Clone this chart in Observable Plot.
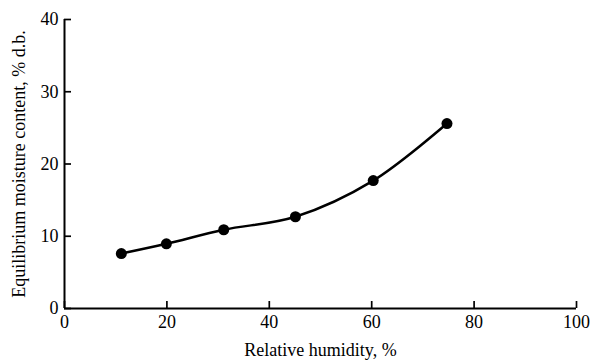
<!DOCTYPE html>
<html><head><meta charset="utf-8">
<script src="https://cdn.jsdelivr.net/npm/d3@7"></script>
<script src="https://cdn.jsdelivr.net/npm/@observablehq/plot@0.6"></script>
<style>body{margin:0;background:#fff}</style>
</head><body><div id="chart"></div>
<script>
const humidity = [11.1, 19.9, 31.1, 45.1, 60.3, 74.7];
const moisture = [7.6, 8.95, 10.9, 12.7, 17.7, 25.6];
const xTicks = [0, 20, 40, 60, 80, 100];
const yTicks = [0, 10, 20, 30, 40];
const xLabel = "Relative humidity, %";
const yLabel = "Equilibrium moisture content, % d.b.";
const data = humidity.map((h, i) => ({h, m: moisture[i]}));

const chart = Plot.plot({
  width: 595, height: 362,
  marginLeft: 64, marginRight: 19, marginTop: 19, marginBottom: 54,
  style: {fontFamily: "'Liberation Serif', 'Times New Roman', serif", fontSize: "18px", color: "#000", background: "#fff"},
  x: {domain: [0, 100]},
  y: {domain: [0, 40]},
  marks: [
    Plot.axisX(xTicks, {tickSize: 7, dy: -7, fill: "none", label: null, strokeWidth: 1.7}),
    Plot.axisY(yTicks, {tickSize: 7, dx: 7, fill: "none", label: null, strokeWidth: 1.7}),
    Plot.axisX(xTicks, {tickSize: 0, tickPadding: 7, label: xLabel, labelAnchor: "center", labelOffset: 47, labelArrow: "none"}),
    Plot.axisY(yTicks, {tickSize: 0, tickPadding: 6, label: yLabel, labelAnchor: "center", labelOffset: 52, labelArrow: "none"}),
    Plot.ruleX([0], {strokeWidth: 2, stroke: "#000"}),
    Plot.ruleY([0], {strokeWidth: 2, stroke: "#000"}),
    Plot.line(data, {x: "h", y: "m", curve: "catmull-rom", strokeWidth: 2.5, stroke: "#000"}),
    Plot.dot(data, {x: "h", y: "m", r: 5.5, fill: "#000"})
  ]
});
document.getElementById("chart").append(chart);
</script>
</body></html>
